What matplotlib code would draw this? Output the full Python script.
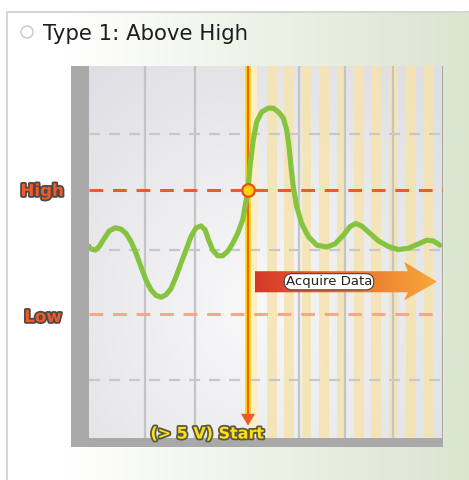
import numpy as np
import matplotlib.pyplot as plt
import matplotlib.patheffects as pe
from matplotlib.patches import Rectangle, Polygon, Circle

# time axis (divisions) and signal voltage
t = [0.0, 0.04, 0.126, 0.206, 0.306, 0.406, 0.526, 0.64, 0.74, 0.84, 0.94,
     1.04, 1.14, 1.24, 1.34, 1.44, 1.54, 1.64, 1.74, 1.84, 1.94, 2.04, 2.14,
     2.24, 2.32, 2.394, 2.474, 2.574, 2.674, 2.774, 2.874, 2.974, 3.074, 3.18,
     3.22, 3.286, 3.354, 3.454, 3.586, 3.686, 3.786, 3.886, 3.954, 4.0, 4.04,
     4.086, 4.154, 4.254, 4.386, 4.554, 4.754, 4.92, 5.086, 5.22, 5.334, 5.454,
     5.62, 5.786, 5.986, 6.186, 6.386, 6.586, 6.754, 6.886, 7.02]
v = [4.09, 4.05, 4.03, 4.09, 4.22, 4.34, 4.39, 4.37, 4.30, 4.17, 3.98,
     3.76, 3.55, 3.39, 3.30, 3.27, 3.31, 3.41, 3.60, 3.82, 4.03, 4.25, 4.39,
     4.42, 4.36, 4.19, 4.03, 3.94, 3.94, 4.01, 4.14, 4.30, 4.52, 5.00,
     5.38, 5.81, 6.10, 6.26, 6.32, 6.32, 6.26, 6.16, 5.97, 5.70, 5.38,
     5.05, 4.73, 4.46, 4.25, 4.11, 4.08, 4.13, 4.27, 4.41, 4.46, 4.42,
     4.30, 4.18, 4.09, 4.04, 4.06, 4.13, 4.19, 4.18, 4.11]

high_level = 5.0
low_level = 3.0
trigger_t = 3.18
grid_v = [5.9, 4.03, 1.94]
grid_t = [1.12, 2.12, 4.2, 5.12, 6.08]

title = "Type 1: Above High"
start_label = "(> 5 V) Start"
acquire_label = "Acquire Data"

W, H = 469, 480
fig = plt.figure(figsize=(W / 100, H / 100), dpi=100)

# background / panel axes in pixel units
bg = fig.add_axes([0, 0, 1, 1])
bg.set_xlim(0, W)
bg.set_ylim(H, 0)
bg.axis("off")

xs = np.linspace(0, 1, 300)
g = np.clip((xs - 0.12) / 0.88, 0, 1)
c0 = np.array([1.0, 1.0, 1.0])
c1 = np.array([0.855, 0.898, 0.812])
grad = (c0[None, :] * (1 - g[:, None]) + c1[None, :] * g[:, None])[None, :, :]
bg.imshow(grad, extent=[7, W, H, 12], aspect="auto", zorder=0)
bg.plot([7, 7, W], [H, 12, 12], color="#d6d6d6", lw=1.5, zorder=1)

bg.add_patch(Circle((27, 32), 6, facecolor="white", edgecolor="#c8c8c8", lw=1, zorder=2))
bg.text(43, 40, title, fontsize=15.3, color="#1e1e1e", ha="left", va="baseline",
        family="DejaVu Sans")

# gray frame bars
bg.add_patch(Rectangle((71, 66), 18, 380, facecolor="#a9a9a9", edgecolor="none", zorder=2))
bg.add_patch(Rectangle((71, 438), 372, 8.5, facecolor="#a9a9a9", edgecolor="none", zorder=2))

# plot axes
x0, x1, y0, y1 = 89, 443, 66, 438
ax = fig.add_axes([x0 / W, 1 - y1 / H, (x1 - x0) / W, (y1 - y0) / H])
ax.set_xlim(0, (x1 - x0) / 50)
ax.set_ylim(1.0, 7.0)
ax.axis("off")

# soft background of plot area
gx, gy = np.meshgrid(np.linspace(0, 1, 200), np.linspace(0, 1, 200))
d = np.sqrt(((gx - 0.45) / 0.7) ** 2 + ((gy - 0.35) / 0.8) ** 2)
w = np.clip(1 - d, 0, 1)
base = np.array([0.878, 0.878, 0.894])
light = np.array([0.975, 0.975, 0.98])
img = base * (1 - w[..., None]) + light * w[..., None]
xl, yl = ax.get_xlim(), ax.get_ylim()
ax.imshow(img, extent=[xl[0], xl[1], yl[0], yl[1]], origin="lower", aspect="auto", zorder=0)

# yellow acquisition stripes
ax.axvspan(trigger_t, trigger_t + 0.18, color="#fbeec4", lw=0, zorder=1)
for s in np.arange(3.56, xl[1], 0.348):
    ax.axvspan(s, min(s + 0.19, xl[1]), color="#f6e4b0", alpha=0.85, lw=0, zorder=1)

for gt in grid_t:
    ax.axvline(gt, color="#c4c4c4", lw=1.6, zorder=2)
ax.axvline(xl[1] - 0.01, color="#a9a9a9", lw=1.5, zorder=2)
for gv in grid_v:
    ax.axhline(gv, color="#c8c8c8", lw=1.6, dashes=(5, 4), zorder=2)

ax.axhline(high_level, color="#f05a28", lw=2.2, dashes=(4.5, 3.2), zorder=3)
ax.axhline(low_level, color="#f5a888", lw=2.2, dashes=(4.5, 3.2), zorder=3)

# trigger line
tip_v = 1.2
ax.plot([trigger_t, trigger_t], [yl[1], 1.39], color="#ffd200", lw=4, zorder=4,
        solid_capstyle="butt")
ax.plot([trigger_t, trigger_t], [yl[1], 1.39], color="#ee4b22", lw=1.2, zorder=5,
        solid_capstyle="butt")
ax.add_patch(Polygon([[trigger_t - 0.14, 1.39], [trigger_t + 0.14, 1.39], [trigger_t, tip_v]],
                     closed=True, facecolor="#f05a28", edgecolor="none", zorder=5))

# signal
ax.plot(t, v, color="#86c440", lw=3.7, solid_capstyle="round", solid_joinstyle="round", zorder=6)
ax.plot([trigger_t], [high_level], "o", ms=9, mfc="#ffd200", mec="#ee4b22", mew=1.6, zorder=7)

# acquire data arrow with gradient
arr = Polygon([[3.32, 3.35], [3.32, 3.69], [6.38, 3.69], [6.30, 3.84],
               [6.96, 3.52], [6.30, 3.22], [6.38, 3.35]], closed=True,
              facecolor="none", edgecolor="none", zorder=7)
ax.add_patch(arr)
ag = np.linspace(0, 1, 256)
ca = np.array([0.84, 0.22, 0.16])
cb = np.array([0.97, 0.66, 0.22])
aimg = (ca[None, :] * (1 - ag[:, None]) + cb[None, :] * ag[:, None])[None, :, :]
im = ax.imshow(aimg, extent=[3.32, 6.96, 3.2, 3.86], aspect="auto", zorder=7)
im.set_clip_path(arr)
ax.set_xlim(xl)
ax.set_ylim(yl)
ax.text(4.8, 3.52, acquire_label, fontsize=9.5, color="#222222", ha="center", va="center",
        zorder=8, bbox=dict(boxstyle="round,pad=0.12,rounding_size=0.6", facecolor="white",
                            edgecolor="#444444", lw=0.8))

# level labels
outline = [pe.withStroke(linewidth=2.6, foreground="#4a4a4a")]
bg.text(42, 191, "High", fontsize=12, fontweight="bold", color="#f05a28",
        ha="center", va="center", path_effects=outline, zorder=5)
bg.text(43, 317, "Low", fontsize=12, fontweight="bold", color="#f05a28",
        ha="center", va="center", path_effects=outline, zorder=5)
fig.text(207.5 / W, 1 - 434 / H, start_label, fontsize=11.5, fontweight="bold",
         color="#ffe01a", ha="center", va="center", zorder=10,
         path_effects=[pe.withStroke(linewidth=2.6, foreground="#5a5a40")])

fig.savefig("out.png", dpi=100)
